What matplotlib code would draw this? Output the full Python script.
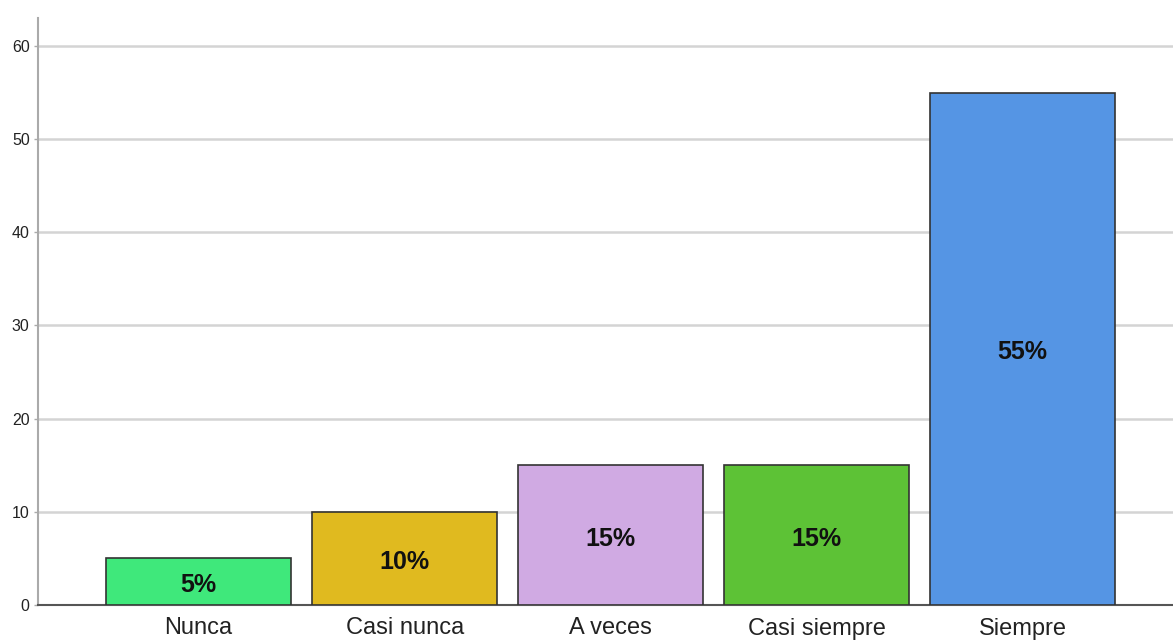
import numpy as np
import matplotlib.pyplot as plt

plt.rcParams['font.family'] = ['Liberation Sans', 'DejaVu Sans']

categories = ['Nunca', 'Casi nunca', 'A veces', 'Casi siempre', 'Siempre']
values = [5, 10, 15, 15, 55]
bar_labels = ['5%', '10%', '15%', '15%', '55%']
colors = ['#3fe87b', '#e0ba1f', '#d0aae3', '#5dc236', '#5595e4']

fig = plt.figure(figsize=(11.73, 6.41), dpi=100)
ax = fig.add_axes([38 / 1173, 36 / 641, 1 - 38 / 1173, (605 - 18) / 641])

x = np.arange(len(categories))
bars = ax.bar(x, values, width=0.9, color=colors, edgecolor='#333333',
              linewidth=1.2, zorder=3)

# percentage labels in the middle of each bar
for xi, v, lab in zip(x, values, bar_labels):
    ax.text(xi, v / 2 - 0.4, lab, ha='center', va='center',
            fontsize=18, fontweight='bold', color='#111111', zorder=4)

ax.set_xlim(-0.78, 4.73)
ax.set_ylim(0, 63)
ax.set_yticks(range(0, 61, 10))
ax.set_xticks(x)
ax.set_xticklabels(categories, fontsize=17, color='#222222')
ax.tick_params(axis='x', length=0, pad=9)
ax.tick_params(axis='y', length=3, width=1, color='#aaaaaa',
               labelsize=11.5, labelcolor='#222222', pad=3)

ax.grid(axis='y', color='#d4d4d4', linewidth=1.8, zorder=0)
ax.set_axisbelow(True)
for side in ['top', 'right']:
    ax.spines[side].set_visible(False)
ax.spines['left'].set_color('#aaaaaa')
ax.spines['left'].set_linewidth(1.5)
ax.spines['bottom'].set_color('#555555')
ax.spines['bottom'].set_linewidth(1.5)

fig.savefig('out.png', dpi=100)
